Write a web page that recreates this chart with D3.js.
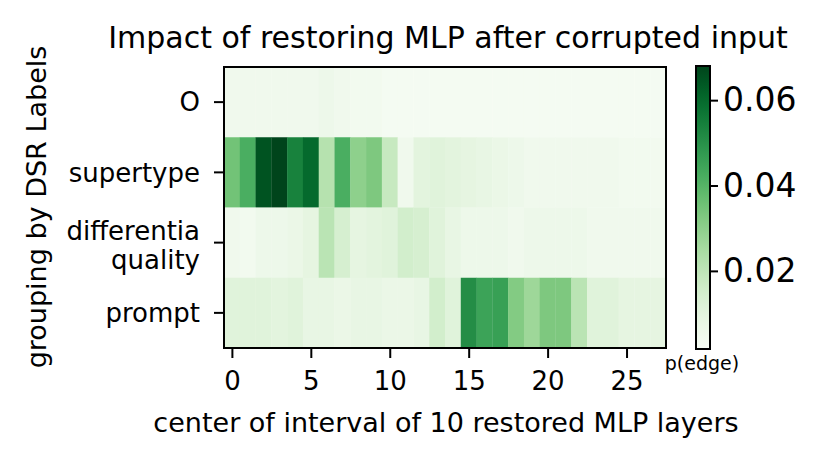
<!DOCTYPE html>
<html lang="en">
<head>
<meta charset="UTF-8">
<title>Impact of restoring MLP after corrupted input</title>
<script src="https://d3js.org/d3.v7.min.js"></script>
<style>
    body { margin: 0; background: #fff; font-family: "DejaVu Sans", sans-serif; }
    svg text { fill: #000; }
</style>
</head>
<body>
<div id="chart"></div>
<script>
    // Row labels (top to bottom) and column positions
    const rowLabels = ["O", "supertype", "differentia\nquality", "prompt"];
    const layers = d3.range(28);
    const xTicks = [0, 5, 10, 15, 20, 25];
    const cbTicks = [0.02, 0.04, 0.06];

    // p(edge) per restored-layer window, one array per row
    const rowO = [0.005, 0.005, 0.005, 0.005, 0.005, 0.005, 0.006, 0.005, 0.004, 0.004,
                  0.003, 0.003, 0.003, 0.003, 0.003, 0.003, 0.003, 0.003, 0.003, 0.003,
                  0.003, 0.003, 0.003, 0.003, 0.003, 0.003, 0.003, 0.003];
    const rowSupertype = [0.035, 0.042, 0.065, 0.068, 0.054, 0.060, 0.022, 0.042, 0.030, 0.033,
                  0.018, 0.005, 0.010, 0.011, 0.010, 0.009, 0.008, 0.007, 0.006, 0.005,
                  0.005, 0.005, 0.005, 0.005, 0.005, 0.004, 0.004, 0.004];
    const rowDifferentia = [0.005, 0.004, 0.006, 0.006, 0.007, 0.009, 0.021, 0.014, 0.009, 0.010,
                  0.011, 0.015, 0.014, 0.011, 0.008, 0.006, 0.006, 0.006, 0.005, 0.006,
                  0.006, 0.006, 0.006, 0.005, 0.005, 0.005, 0.005, 0.005];
    const rowPrompt = [0.011, 0.011, 0.011, 0.010, 0.011, 0.008, 0.008, 0.007, 0.008, 0.008,
                  0.007, 0.007, 0.008, 0.015, 0.011, 0.051, 0.045, 0.046, 0.032, 0.027,
                  0.033, 0.033, 0.021, 0.011, 0.011, 0.009, 0.009, 0.009];
    const rows = [rowO, rowSupertype, rowDifferentia, rowPrompt];

    const vMin = 0.0017, vMax = 0.068;

    const width = 832, height = 462;
    const plot = { left: 224, right: 666, top: 67, bottom: 348 };
    const cb = { left: 696, right: 710, top: 66, bottom: 349 };

    const svg = d3.select("#chart").append("svg")
        .attr("width", width)
        .attr("height", height)
        .style("font-family", "DejaVu Sans");

    const x = d3.scaleLinear().domain([-0.5, 27.5]).range([plot.left, plot.right]);
    const y = d3.scaleBand().domain(d3.range(rows.length)).range([plot.top, plot.bottom]);
    const color = d3.scaleSequential(d3.interpolateGreens).domain([vMin, vMax]);

    // heatmap cells
    const cells = [];
    rows.forEach((r, ri) => r.forEach((v, ci) => cells.push({ ri, ci, v })));
    svg.append("g").selectAll("rect")
        .data(cells)
        .enter().append("rect")
        .attr("x", d => x(d.ci - 0.5))
        .attr("y", d => y(d.ri))
        .attr("width", x(1) - x(0) + 0.3)
        .attr("height", y.bandwidth() + 0.3)
        .attr("fill", d => color(d.v));

    svg.append("rect")
        .attr("x", plot.left).attr("y", plot.top)
        .attr("width", plot.right - plot.left).attr("height", plot.bottom - plot.top)
        .attr("fill", "none").attr("stroke", "#000").attr("stroke-width", 2);

    // x axis
    const xAxis = svg.append("g")
        .attr("transform", `translate(0,${plot.bottom})`)
        .call(d3.axisBottom(x).tickValues(xTicks).tickSize(10).tickPadding(14));
    xAxis.select(".domain").remove();
    xAxis.selectAll("line").attr("stroke-width", 2);
    xAxis.selectAll("text").attr("font-size", 26).attr("font-family", "DejaVu Sans");

    // y axis
    const yAxis = svg.append("g")
        .attr("transform", `translate(${plot.left},0)`)
        .call(d3.axisLeft(y).tickSize(10).tickFormat(""));
    yAxis.select(".domain").remove();
    yAxis.selectAll("line").attr("stroke-width", 2);
    rows.forEach((r, i) => {
        const lines = rowLabels[i].split("\n");
        const cy = y(i) + y.bandwidth() / 2;
        const lineH = 29;
        const shift = lines.length > 1 ? 3 : 0;
        const t = svg.append("text")
            .attr("text-anchor", "end")
            .attr("font-size", 26);
        lines.forEach((l, k) => {
            t.append("tspan")
                .attr("x", plot.left - 24)
                .attr("y", cy + shift - (lines.length - 1) * lineH / 2 + k * lineH)
                .attr("dy", "0.36em")
                .text(l);
        });
    });

    // titles
    svg.append("text")
        .attr("x", 448).attr("y", 48)
        .attr("text-anchor", "middle").attr("font-size", 30)
        .text("Impact of restoring MLP after corrupted input");
    svg.append("text")
        .attr("x", (plot.left + plot.right) / 2 + 1).attr("y", 432)
        .attr("text-anchor", "middle").attr("font-size", 27)
        .text("center of interval of 10 restored MLP layers");
    svg.append("text")
        .attr("transform", `translate(46,207) rotate(-90)`)
        .attr("text-anchor", "middle").attr("font-size", 27)
        .text("grouping by DSR Labels");

    // colorbar
    const defs = svg.append("defs");
    const grad = defs.append("linearGradient").attr("id", "cbgrad")
        .attr("x1", 0).attr("y1", 1).attr("x2", 0).attr("y2", 0);
    d3.range(0, 1.0001, 0.05).forEach(t => {
        grad.append("stop").attr("offset", t)
            .attr("stop-color", color(vMin + t * (vMax - vMin)));
    });
    svg.append("rect")
        .attr("x", cb.left).attr("y", cb.top)
        .attr("width", cb.right - cb.left).attr("height", cb.bottom - cb.top)
        .attr("fill", "url(#cbgrad)").attr("stroke", "#000").attr("stroke-width", 2);

    const cy = d3.scaleLinear().domain([vMin, vMax]).range([cb.bottom, cb.top]);
    const cbAxis = svg.append("g")
        .attr("transform", `translate(${cb.right},0)`)
        .call(d3.axisRight(cy).tickValues(cbTicks).tickSize(8).tickPadding(5).tickFormat(d3.format(".2f")));
    cbAxis.select(".domain").remove();
    cbAxis.selectAll("line").attr("stroke-width", 2);
    cbAxis.selectAll("text").attr("font-size", 33).attr("font-family", "DejaVu Sans");

    svg.append("text")
        .attr("x", 702).attr("y", 370)
        .attr("text-anchor", "middle").attr("font-size", 19)
        .text("p(edge)");
</script>
</body>
</html>
